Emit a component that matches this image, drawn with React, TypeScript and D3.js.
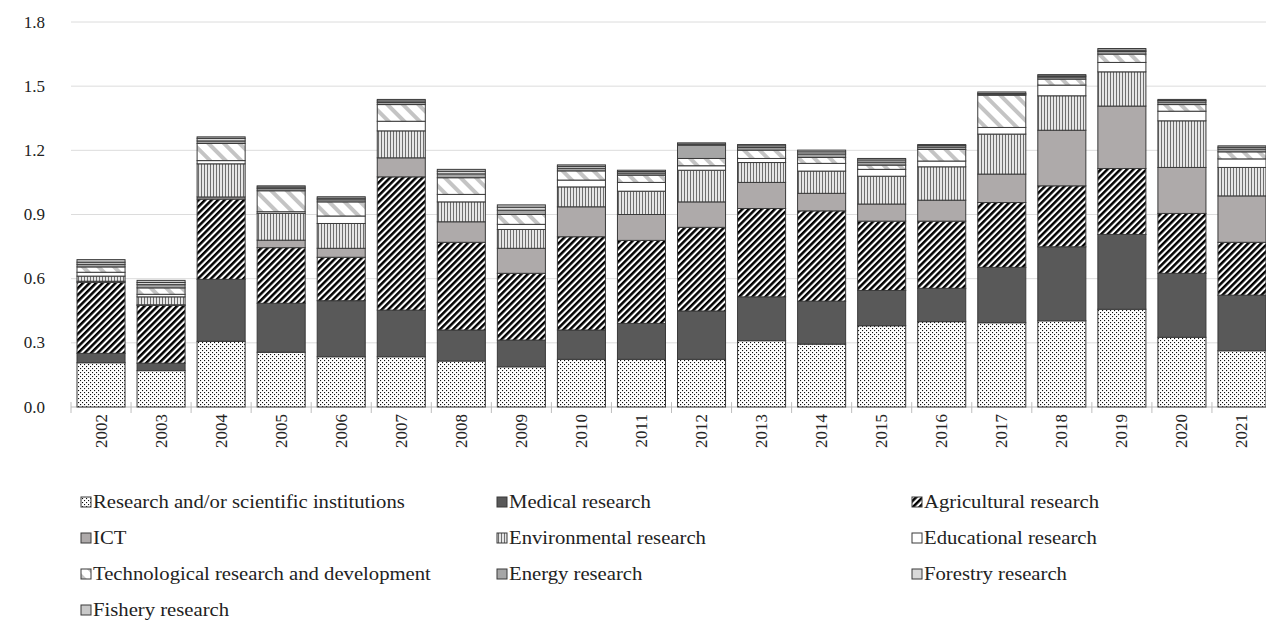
import React from 'react';
import * as d3 from 'd3';

const years = ['2002','2003','2004','2005','2006','2007','2008','2009','2010','2011','2012','2013','2014','2015','2016','2017','2018','2019','2020','2021'];
const research      = [0.207,0.170,0.307,0.256,0.235,0.235,0.215,0.188,0.223,0.223,0.223,0.310,0.294,0.380,0.399,0.394,0.403,0.457,0.326,0.263];
const medical       = [0.044,0.035,0.290,0.229,0.262,0.218,0.145,0.125,0.137,0.168,0.226,0.205,0.201,0.165,0.156,0.259,0.346,0.350,0.299,0.260];
const agricultural  = [0.332,0.270,0.375,0.260,0.203,0.623,0.410,0.312,0.436,0.388,0.391,0.413,0.422,0.324,0.314,0.303,0.285,0.308,0.280,0.247];
const ict           = [0.005,0.003,0.010,0.035,0.042,0.089,0.096,0.117,0.140,0.121,0.119,0.122,0.082,0.080,0.098,0.133,0.260,0.292,0.215,0.217];
const environmental = [0.024,0.037,0.155,0.125,0.116,0.126,0.093,0.088,0.093,0.109,0.148,0.093,0.104,0.130,0.156,0.187,0.161,0.160,0.218,0.133];
const educational   = [0.018,0.012,0.015,0.008,0.035,0.045,0.035,0.024,0.032,0.041,0.021,0.019,0.036,0.032,0.027,0.031,0.050,0.044,0.045,0.040];
const technological = [0.025,0.030,0.080,0.098,0.066,0.078,0.078,0.046,0.043,0.034,0.034,0.039,0.028,0.020,0.054,0.151,0.028,0.039,0.031,0.033];
const energy        = [0.012,0.015,0.012,0.010,0.010,0.010,0.018,0.020,0.012,0.010,0.062,0.012,0.016,0.014,0.011,0.004,0.010,0.012,0.012,0.013];
const forestry      = [0.010,0.010,0.012,0.007,0.007,0.007,0.012,0.014,0.009,0.007,0.005,0.008,0.010,0.010,0.007,0.004,0.005,0.006,0.007,0.008];
const fishery       = [0.012,0.010,0.007,0.006,0.007,0.007,0.009,0.011,0.007,0.006,0.006,0.006,0.008,0.007,0.005,0.007,0.006,0.008,0.005,0.007];

const seriesNames = ['Research and/or scientific institutions','Medical research','Agricultural research','ICT','Environmental research','Educational research','Technological research and development','Energy research','Forestry research','Fishery research'];
const seriesValues = [research, medical, agricultural, ict, environmental, educational, technological, energy, forestry, fishery];
const yTicks = [0, 0.3, 0.6, 0.9, 1.2, 1.5, 1.8];

const fills = ['url(#pDots)','#595959','url(#pAgri)','#aeaaaa','url(#pEnv)','#ffffff','url(#pTech)','#a6a6a6','#d9d9d9','#c9c9c9'];

const FONT = '"Liberation Serif", "Times New Roman", serif';

export default function App() {
  const W = 1266, H = 620;
  const keys = seriesNames.map((_, i) => 's' + i);
  const table = years.map((yr, i) => {
    const row: any = { year: yr };
    seriesValues.forEach((arr, k) => { row['s' + k] = arr[i]; });
    return row;
  });
  const stacked = d3.stack<any>().keys(keys)(table);
  const x = d3.scaleBand<string>().domain(years).range([71, 1272]).paddingInner(0.2).paddingOuter(0.1);
  const y = d3.scaleLinear().domain([0, 1.8]).range([407, 22]);
  const step = x.step();
  const x0 = x.range()[0];

  const legendCols = [81, 497, 912];
  const legendRows = [502, 538, 574, 610];

  return (
    <div style={{ position: 'absolute', left: 0, top: 0 }}>
      <svg width={W} height={H} style={{ display: 'block', background: '#fff' }}>
        <defs>
          <pattern id="pDots" width="4" height="4" patternUnits="userSpaceOnUse">
            <rect width="4" height="4" fill="#fff" />
            <rect x="0" y="0" width="1.1" height="1.1" fill="#111" />
            <rect x="2" y="2" width="1.1" height="1.1" fill="#111" />
          </pattern>
          <pattern id="pAgri" width="4.6" height="4.6" patternUnits="userSpaceOnUse" patternTransform="rotate(45)">
            <rect width="4.6" height="4.6" fill="#fff" />
            <rect x="0" y="0" width="2.5" height="4.6" fill="#000" />
          </pattern>
          <pattern id="pEnv" width="3" height="3" patternUnits="userSpaceOnUse">
            <rect width="3" height="3" fill="#e6e6e6" />
            <rect x="0" y="0" width="1" height="3" fill="#6f6f6f" />
          </pattern>
          <pattern id="pTech" width="11" height="11" patternUnits="userSpaceOnUse" patternTransform="rotate(-45)">
            <rect width="11" height="11" fill="#fff" />
            <rect x="0" y="0" width="4" height="11" fill="#c4c4c4" />
          </pattern>
        </defs>

        {yTicks.map(t => (
          <line key={'g' + t} x1={71} x2={W} y1={y(t)} y2={y(t)} stroke={t === 0 ? '#bfbfbf' : '#dcdcdc'} strokeWidth={1} />
        ))}
        {d3.range(years.length + 1).map(i => (
          <line key={'t' + i} x1={x0 + i * step} x2={x0 + i * step} y1={y(0) - 5} y2={y(0) + 6} stroke="#bfbfbf" strokeWidth={1} />
        ))}
        {yTicks.map(t => (
          <text key={'yl' + t} x={45} y={y(t)} textAnchor="end" dominantBaseline="central" fontFamily={FONT} fontSize={17} fill="#222">{t.toFixed(1)}</text>
        ))}

        {stacked.map((ser, k) => (
          <g key={'s' + k}>
            {ser.map((d, i) => (
              <rect key={i} x={x(years[i])} width={x.bandwidth()} y={y(d[1])} height={Math.max(0, y(d[0]) - y(d[1]))}
                fill={fills[k]} stroke="#3a3a3a" strokeWidth={1} />
            ))}
          </g>
        ))}

        {years.map(yr => (
          <text key={'xl' + yr} transform={`translate(${(x(yr) as number) + x.bandwidth() / 2},414) rotate(-90)`} textAnchor="end" dominantBaseline="central" fontFamily={FONT} fontSize={17} fill="#222">{yr}</text>
        ))}

        {seriesNames.map((name, k) => {
          const col = k % 3, row = Math.floor(k / 3);
          const lx = legendCols[col], ly = legendRows[row];
          return (
            <g key={'lg' + k}>
              <rect x={lx} y={ly - 5} width={10} height={10} fill={fills[k]} stroke="#3a3a3a" strokeWidth={1} />
              <text transform={`translate(${lx + 12},${ly}) scale(1.15,1)`} dominantBaseline="central" fontFamily={FONT} fontSize={18} fill="#222">{name}</text>
            </g>
          );
        })}
      </svg>
    </div>
  );
}
